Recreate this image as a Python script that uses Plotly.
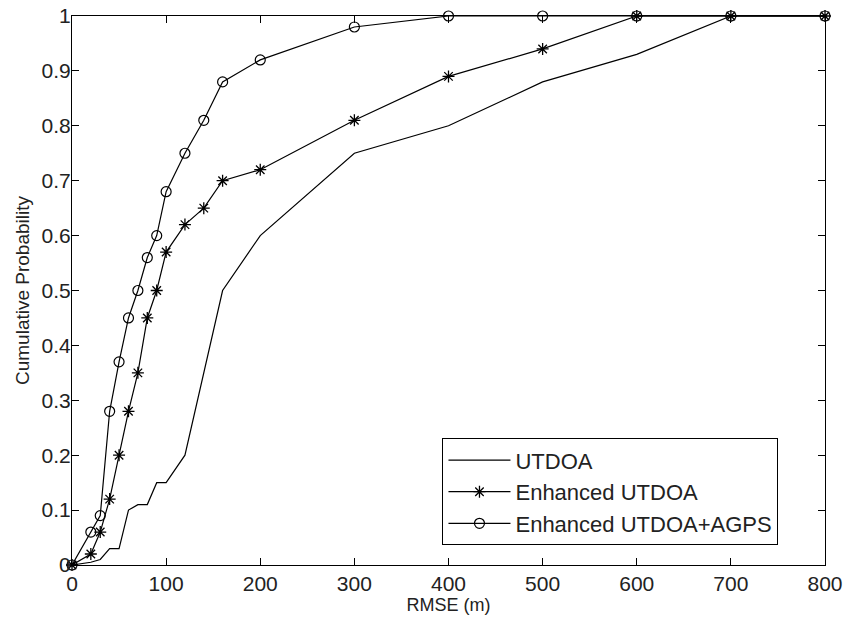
import plotly.graph_objects as go

# ---- data ----
utdoa_x = [0, 20, 30, 40, 50, 60, 70, 80, 90, 100, 120, 160, 200, 300, 400, 500, 600, 700, 800]
utdoa_y = [0, 0.005, 0.01, 0.03, 0.03, 0.10, 0.11, 0.11, 0.15, 0.15, 0.20, 0.50, 0.60, 0.75, 0.80, 0.88, 0.93, 1.0, 1.0]

enh_x = [0, 20, 30, 40, 50, 60, 70, 80, 90, 100, 120, 140, 160, 200, 300, 400, 500, 600, 700, 800]
enh_y = [0, 0.02, 0.06, 0.12, 0.20, 0.28, 0.35, 0.45, 0.50, 0.57, 0.62, 0.65, 0.70, 0.72, 0.81, 0.89, 0.94, 1.0, 1.0, 1.0]

agps_x = [0, 20, 30, 40, 50, 60, 70, 80, 90, 100, 120, 140, 160, 200, 300, 400, 500, 600, 700, 800]
agps_y = [0, 0.06, 0.09, 0.28, 0.37, 0.45, 0.50, 0.56, 0.60, 0.68, 0.75, 0.81, 0.88, 0.92, 0.98, 1.0, 1.0, 1.0, 1.0, 1.0]

series_names = ["UTDOA", "Enhanced UTDOA", "Enhanced UTDOA+AGPS"]

x_ticks = [0, 100, 200, 300, 400, 500, 600, 700, 800]
y_ticks = [0, 0.1, 0.2, 0.3, 0.4, 0.5, 0.6, 0.7, 0.8, 0.9, 1.0]
y_tick_text = ["0", "0.1", "0.2", "0.3", "0.4", "0.5", "0.6", "0.7", "0.8", "0.9", "1"]

x_title = "RMSE (m)"
y_title = "Cumulative Probability"

FONT = "Arial, Liberation Sans, sans-serif"

fig = go.Figure()
fig.add_trace(go.Scatter(x=utdoa_x, y=utdoa_y, mode="lines", name=series_names[0],
                         line=dict(color="black", width=1.2), cliponaxis=False))
fig.add_trace(go.Scatter(x=enh_x, y=enh_y, mode="lines+markers", name=series_names[1],
                         line=dict(color="black", width=1.2),
                         marker=dict(symbol="asterisk-open", size=10, color="black",
                                     line=dict(color="black", width=1.3)),
                         cliponaxis=False))
fig.add_trace(go.Scatter(x=agps_x, y=agps_y, mode="lines+markers", name=series_names[2],
                         line=dict(color="black", width=1.2),
                         marker=dict(symbol="circle-open", size=10, color="black",
                                     line=dict(color="black", width=1.2)),
                         cliponaxis=False))

axis_common = dict(showline=True, linecolor="black", linewidth=1, mirror="ticks",
                   ticks="inside", ticklen=7, tickcolor="black", tickwidth=1,
                   showgrid=False, zeroline=False, automargin=False,
                   tickfont=dict(family=FONT, size=21, color="#222"))

fig.update_xaxes(range=[0, 800], tickvals=x_ticks, ticktext=[str(v) for v in x_ticks],
                 title=dict(text=x_title, font=dict(family=FONT, size=18, color="#222"), standoff=3),
                 **axis_common)
fig.update_yaxes(range=[0, 1], tickvals=y_ticks, ticktext=y_tick_text, ticklabelstandoff=-4,
                 title=dict(text=y_title, font=dict(family=FONT, size=19, color="#222"), standoff=6),
                 **axis_common)

fig.update_layout(
    width=849, height=618,
    margin=dict(l=72, r=24, t=16, b=53),
    paper_bgcolor="white", plot_bgcolor="white",
    font=dict(family=FONT, color="#222"),
    legend=dict(x=0.492, y=0.2308, xanchor="left", yanchor="top",
                bordercolor="black", borderwidth=1, bgcolor="white",
                font=dict(family=FONT, size=22, color="#222"),
                itemwidth=62, tracegroupgap=0),
    showlegend=True,
)

fig.write_html("out.html")
